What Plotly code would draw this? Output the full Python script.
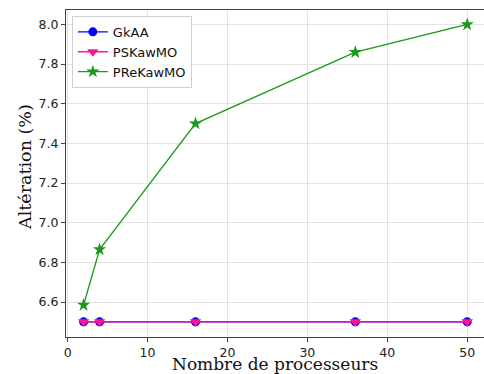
import plotly.graph_objects as go

procs = [2, 4, 16, 36, 50]
gkaa = [6.5, 6.5, 6.5, 6.5, 6.5]
pskawmo = [6.5, 6.5, 6.5, 6.5, 6.5]
prekawmo = [6.585, 6.865, 7.50, 7.86, 8.0]

fig = go.Figure()
fig.add_trace(go.Scatter(x=procs, y=gkaa, name="GkAA", mode="lines+markers",
                         line=dict(color="#0000ff", width=1.3),
                         marker=dict(symbol="circle", size=9, color="#0000ff")))
fig.add_trace(go.Scatter(x=procs, y=pskawmo, name="PSKawMO", mode="lines+markers",
                         line=dict(color="#ff1493", width=1.3),
                         marker=dict(symbol="triangle-down", size=10, color="#ff1493")))
fig.add_trace(go.Scatter(x=procs, y=prekawmo, name="PReKawMO", mode="lines+markers",
                         line=dict(color="#1a9a1a", width=1.3),
                         marker=dict(symbol="star", size=10, color="#1a9a1a")))

axis_common = dict(showline=True, linecolor="#444444", linewidth=1, mirror=True,
                   ticks="outside", ticklen=4, tickcolor="#444444",
                   showgrid=True, gridcolor="#e3e3e3", gridwidth=1, zeroline=False,
                   automargin=False,
                   tickfont=dict(family="DejaVu Sans", size=12.5, color="#222222"))

fig.update_layout(
    width=484, height=374,
    margin=dict(l=66, r=0, t=10, b=37, autoexpand=False),
    plot_bgcolor="white", paper_bgcolor="white",
    xaxis=dict(range=[-0.2, 52.1], tickvals=[0, 10, 20, 30, 40, 50], **axis_common),
    yaxis=dict(range=[6.4236, 8.073], tickvals=[6.6, 6.8, 7.0, 7.2, 7.4, 7.6, 7.8, 8.0],
               tickformat=".1f", **axis_common),
    legend=dict(x=0.014, y=0.982, xanchor="left", yanchor="top",
                bgcolor="rgba(255,255,255,0.9)", bordercolor="#d0d0d0", borderwidth=1,
                font=dict(family="DejaVu Sans", size=13, color="#111111"),
                itemwidth=30, tracegroupgap=0),
    showlegend=True,
    annotations=[
        dict(text="Nombre de processeurs", xref="paper", yref="paper",
             x=0.5, y=0, yshift=-26.5, xanchor="center", yanchor="middle", showarrow=False,
             font=dict(family="DejaVu Serif", size=17, color="#111111")),
        dict(text="Altération (%)", xref="paper", yref="paper", textangle=-90,
             x=0, xshift=-41, y=0.52, xanchor="center", yanchor="middle", showarrow=False,
             font=dict(family="DejaVu Serif", size=17.5, color="#111111")),
    ],
)

fig.write_html("out.html", config={"displayModeBar": False},
               post_script="document.body.style.margin='0';document.body.style.overflow='hidden';")
